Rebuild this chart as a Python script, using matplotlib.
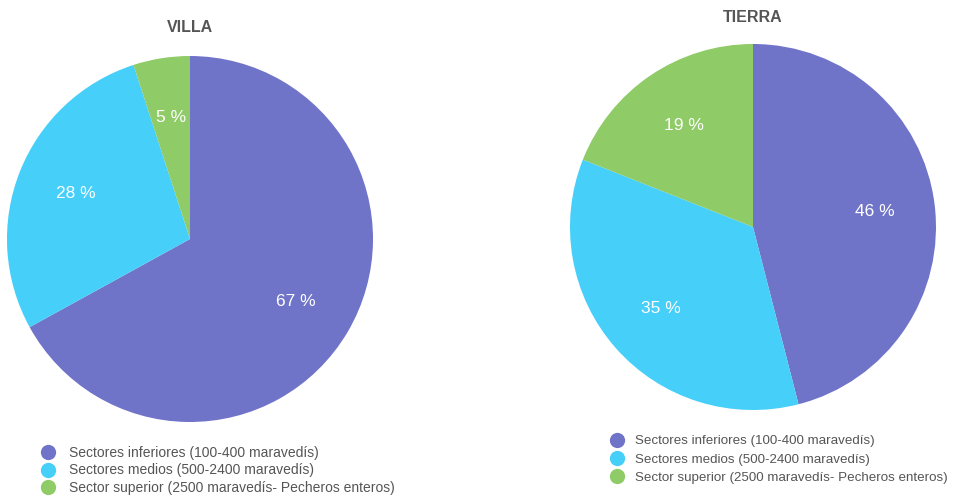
import matplotlib.pyplot as plt
from matplotlib.lines import Line2D

plt.rcParams['font.family'] = ['Liberation Sans', 'DejaVu Sans']

categories = ['Sectores inferiores (100-400 maravedís)',
              'Sectores medios (500-2400 maravedís)',
              'Sector superior (2500 maravedís- Pecheros enteros)']
villa = [67, 28, 5]
tierra = [46, 35, 19]
colors = ['#7074c8', '#45cff9', '#8fcb67']

W, H = 965, 496
fig = plt.figure(figsize=(W / 100, H / 100), dpi=100)


def pie_panel(cx, cy, r, values, title, title_y, leg_x, leg_y, leg_size, pad, spacing):
    ax = fig.add_axes([(cx - r) / W, 1 - (cy + r) / H, 2 * r / W, 2 * r / H])
    wedges, texts, autotexts = ax.pie(values, colors=colors, startangle=90, counterclock=False,
                                      autopct=lambda p: '%d %%' % round(p), pctdistance=0.67,
                                      wedgeprops=dict(linewidth=0))
    for t in autotexts:
        t.set_color('white')
        t.set_fontsize(12.5)
    ax.set_xlim(-1, 1)
    ax.set_ylim(-1, 1)
    ax.set_aspect('equal')
    fig.text(cx / W, 1 - title_y / H, title, ha='center', va='center',
             fontsize=11.5, fontweight='bold', color='#555555')
    handles = [Line2D([], [], marker='o', linestyle='none', markersize=11,
                      markerfacecolor=c, markeredgewidth=0) for c in colors]
    fig.legend(handles, categories, loc='upper left',
               bbox_to_anchor=(leg_x / W, 1 - leg_y / H), frameon=False,
               fontsize=leg_size, labelcolor='#555555', handletextpad=pad,
               labelspacing=spacing, borderpad=0, borderaxespad=0, handlelength=1.3)


pie_panel(190, 239, 183, villa, 'VILLA', 28, 39, 446, 10, 0.85, 0.25)
pie_panel(753, 227, 183, tierra, 'TIERRA', 18, 608, 435, 9.6, 0.75, 0.45)

fig.savefig('out.png', dpi=100)
